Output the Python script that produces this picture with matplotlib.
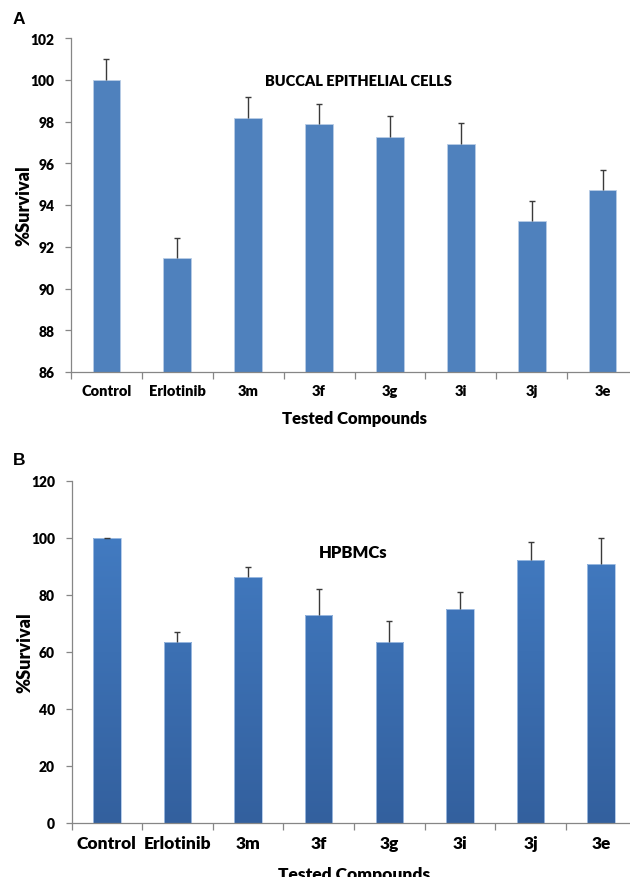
import numpy as np
import matplotlib
matplotlib.use("Agg")
import matplotlib.pyplot as plt
from matplotlib.colors import LinearSegmentedColormap

categories = ["Control", "Erlotinib", "3m", "3f", "3g", "3i", "3j", "3e"]
buccal_vals = [100.0, 91.46, 98.19, 97.86, 97.28, 96.94, 93.22, 94.73]
buccal_err = [1.0, 0.94, 1.0, 0.97, 0.97, 0.97, 0.97, 0.97]
hpbmc_vals = [99.9, 63.4, 86.2, 72.9, 63.4, 75.0, 92.3, 90.8]
hpbmc_err = [0.1, 3.7, 3.7, 9.1, 7.5, 6.2, 6.4, 9.3]
buccal_yticks = [86, 88, 90, 92, 94, 96, 98, 100, 102]
hpbmc_yticks = [0, 20, 40, 60, 80, 100, 120]

FONT = "Lato"
W, H = 630, 878
fig = plt.figure(figsize=(W / 100, H / 100), dpi=100)

AX_COL = "#868686"


def style_axes(ax, yticks, ylim, tick_fs, lab_fs):
    x = np.arange(len(categories))
    ax.set_xlim(-0.5, len(categories) - 0.5)
    ax.set_ylim(*ylim)
    for s in ["top", "right"]:
        ax.spines[s].set_visible(False)
    for s in ["left", "bottom"]:
        ax.spines[s].set_color(AX_COL)
        ax.spines[s].set_linewidth(0.9)
    ax.set_yticks(yticks)
    ax.set_yticklabels([str(t) for t in yticks], fontsize=10, fontweight="heavy", family=FONT)
    ax.set_xticks(np.arange(len(categories)) - 0.5, minor=False)
    ax.set_xticklabels([])
    ax.tick_params(axis="x", which="major", direction="out", length=5, color=AX_COL, width=0.9)
    ax.set_xticks(x, minor=True)
    ax.set_xticklabels(categories, minor=True, fontsize=tick_fs, fontweight="heavy", family=FONT)
    ax.tick_params(axis="x", which="minor", length=0, pad=9)
    ax.tick_params(axis="y", direction="out", length=4, color=AX_COL, width=0.9, pad=8)
    ax.set_ylabel("%Survival", fontsize=13, fontweight="heavy", family=FONT)
    ax.set_xlabel("Tested Compounds", fontsize=lab_fs, fontweight="heavy", family=FONT)
    ax.yaxis.set_label_coords(-0.068, 0.5)


def add_errorbars(ax, vals, errs):
    x = np.arange(len(vals))
    _, caps, _ = ax.errorbar(x, vals, yerr=[np.zeros(len(x)), errs], fmt="none",
                             ecolor="#3a3a3a", elinewidth=1.0, capsize=2.5, capthick=1.0, zorder=3)
    caps[0].set_visible(False)


# Panel A
axA = fig.add_axes([71 / W, 1 - 373 / H, 567 / W, (373 - 39) / H])
x = np.arange(len(categories))
axA.bar(x, buccal_vals, width=0.39, color="#4f81bd", edgecolor="#b9cde6", linewidth=0.6, zorder=2)
add_errorbars(axA, buccal_vals, buccal_err)
style_axes(axA, buccal_yticks, (86, 102), 10.5, 12)
axA.xaxis.set_label_coords(0.5, -0.115)
axA.text(358 / W, 1 - 81 / H, "BUCCAL EPITHELIAL CELLS", transform=fig.transFigure,
         ha="center", va="center", fontsize=10.5, fontweight="heavy", family=FONT)

# Panel B
axB = fig.add_axes([71.5 / W, 1 - 824 / H, 565 / W, (824 - 482) / H])
bars = axB.bar(x, hpbmc_vals, width=0.39, color="none", edgecolor="#a9c4e6", linewidth=0.6, zorder=2)
cmap = LinearSegmentedColormap.from_list("grad", ["#33609e", "#4580c8"])
grad = np.linspace(0, 1, 256).reshape(-1, 1)
for b in bars:
    x0 = b.get_x()
    w = b.get_width()
    im = axB.imshow(grad, cmap=cmap, aspect="auto", origin="lower",
                    extent=[x0, x0 + w, 0, 120], zorder=1.9, vmin=0, vmax=1)
    im.set_clip_path(b)
add_errorbars(axB, hpbmc_vals, hpbmc_err)
style_axes(axB, hpbmc_yticks, (0, 120), 12.5, 12.5)
axB.xaxis.set_label_coords(0.5, -0.125)
axB.text(353 / W, 1 - 553 / H, "HPBMCs", transform=fig.transFigure,
         ha="center", va="center", fontsize=12, fontweight="heavy", family=FONT)

fig.text(19 / W, 1 - 19 / H, "A", ha="center", va="center", fontsize=12.5, fontweight="bold",
         family="Liberation Sans")
fig.text(19 / W, 1 - 461 / H, "B", ha="center", va="center", fontsize=12.5, fontweight="bold",
         family="Liberation Sans")

fig.savefig("out.png", dpi=100)
